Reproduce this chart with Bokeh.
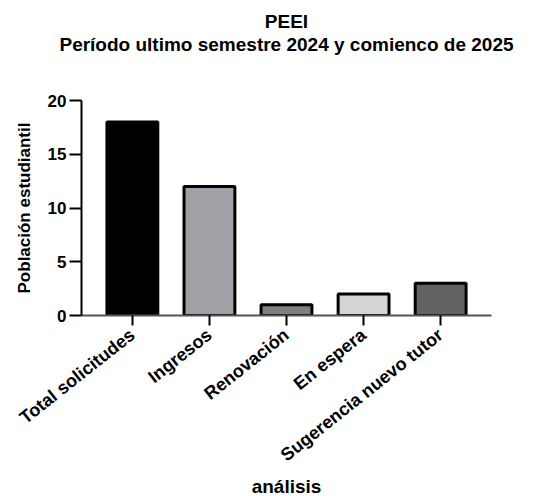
from bokeh.plotting import figure
from bokeh.models import Range1d, FixedTicker, Title, ColumnDataSource
from bokeh.embed import file_html
from bokeh.resources import INLINE

categories = ["Total solicitudes", "Ingresos", "Renovación", "En espera", "Sugerencia nuevo tutor"]
values = [18, 12, 1, 2, 3]
colors = ["#000000", "#a0a0a6", "#808080", "#d4d4d4", "#626262"]
y_ticks = [0, 5, 10, 15, 20]
title_main = "PEEI"
title_sub = "Período ultimo semestre 2024 y comienco de 2025"

FONT = "Liberation Sans"
HAS_STANDOFF = "standoff" in Title.properties()

def make_title(text, size, color="#000000", standoff=0):
    kw = dict(text=text, align="center", text_font=FONT, text_font_size=size,
              text_font_style="bold", text_color=color)
    if HAS_STANDOFF:
        kw["standoff"] = standoff
    return Title(**kw)

positions = list(range(len(categories)))
src = ColumnDataSource(dict(x=positions, top=values, color=colors))

p = figure(frame_width=410, frame_height=215, output_backend="svg", toolbar_location=None,
           x_range=Range1d(-0.66, len(categories) - 1 + 0.66), y_range=Range1d(0, 20),
           min_border_left=81, min_border_top=100, min_border_right=43, min_border_bottom=4)

p.vbar(x="x", top="top", bottom=0, width=0.66, source=src, fill_color="color",
       line_color="#000000", line_width=3)

# closest to frame: invisible spacer, then subtitle; p.title (outermost) is the main title
p.add_layout(make_title(" ", "40px", color="white"), "above")
p.add_layout(make_title(title_sub, "19px"), "above")
p.title = make_title(title_main, "19px")

p.xgrid.visible = False
p.ygrid.visible = False
p.outline_line_color = None
p.background_fill_color = "white"
p.border_fill_color = "white"

xa = p.xaxis[0]
xa.ticker = FixedTicker(ticks=positions)
xa.major_label_overrides = {i: c for i, c in enumerate(categories)}
xa.major_label_orientation = 0.67
xa.major_label_text_font = FONT
xa.major_label_text_font_size = "18px"
xa.major_label_text_font_style = "bold"
xa.major_label_text_color = "#000000"
xa.major_label_standoff = 7
xa.axis_line_color = "#555555"
xa.axis_line_width = 2
xa.major_tick_line_color = "#000000"
xa.major_tick_line_width = 2
xa.major_tick_out = 10
xa.major_tick_in = 0
xa.minor_tick_line_color = None
xa.axis_label = "análisis"
xa.axis_label_text_font = FONT
xa.axis_label_text_font_size = "19px"
xa.axis_label_text_font_style = "bold"
xa.axis_label_text_color = "#000000"
xa.axis_label_standoff = 0

ya = p.yaxis[0]
ya.ticker = FixedTicker(ticks=y_ticks)
ya.major_label_text_font = FONT
ya.major_label_text_font_size = "17px"
ya.major_label_text_font_style = "bold"
ya.major_label_text_color = "#000000"
ya.major_label_standoff = 3
ya.axis_line_color = "#000000"
ya.axis_line_width = 2
ya.major_tick_line_color = "#000000"
ya.major_tick_line_width = 2
ya.major_tick_out = 12
ya.major_tick_in = 0
ya.minor_tick_line_color = None
ya.axis_label = "Población estudiantil"
ya.axis_label_text_font = FONT
ya.axis_label_text_font_size = "17px"
ya.axis_label_text_font_style = "bold"
ya.axis_label_text_color = "#000000"
ya.axis_label_standoff = 11

open("out.html", "w").write(file_html(p, INLINE))
